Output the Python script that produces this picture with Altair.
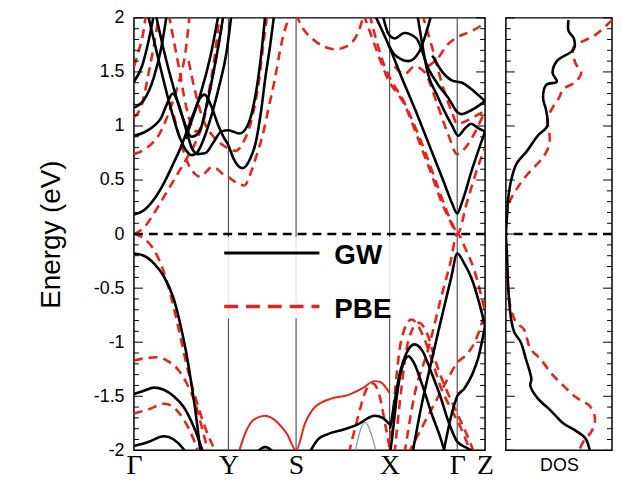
import altair as alt
import pandas as pd

# ---------------- axis / path definitions ----------------
K_TICKS = [0.0, 0.95, 1.63, 2.57, 3.25, 3.53]
K_LABELS = ["Γ", "Y", "S", "X", "Γ", "Z"]
K_LINES = [0.95, 1.63, 2.57, 3.25]
E_TICKS = [-2, -1.5, -1, -0.5, 0, 0.5, 1, 1.5, 2]

# ---------------- GW bands (black, solid) ----------------
gw_v1 = [(0, -0.18), (0.1, -0.2), (0.2, -0.27), (0.3, -0.39), (0.4, -0.6), (0.47, -0.85), (0.52, -1.07), (0.57, -1.34), (0.62, -1.65), (0.67, -2.03)]
gw_v2 = [(0, -1.48), (0.1, -1.45), (0.2, -1.42), (0.3, -1.44), (0.4, -1.5), (0.5, -1.6), (0.6, -1.78), (0.7, -2.03)]
gw_v3 = [(0, -1.96), (0.15, -1.92), (0.3, -1.87), (0.4, -1.9), (0.5, -1.99), (0.53, -2.03)]
gw_v4 = [(1.22, -2.03), (1.32, -1.97), (1.42, -2.03)]
gw_v5 = [(1.76, -2.03), (1.85, -1.9), (1.95, -1.85), (2.1, -1.81), (2.25, -1.76), (2.42, -1.68), (2.5, -1.7), (2.57, -1.76)]
gw_v6 = [(2.575, -1.8), (2.62, -1.55), (2.67, -1.3), (2.74, -1.1), (2.82, -1.02), (2.9, -1.08), (2.99, -1.28), (3.08, -1.5), (3.16, -1.73), (3.25, -1.92), (3.35, -1.98), (3.45, -2.03)]
gw_v7 = [(2.575, -2.03), (2.6, -1.85), (2.65, -1.45), (2.7, -1.22), (2.76, -1.13), (2.82, -1.2), (2.9, -1.4), (3.0, -1.68), (3.08, -1.88), (3.13, -2.03)]
gw_v8 = [(2.8, -2.03), (2.89, -1.59), (2.99, -1.18), (3.06, -0.9), (3.12, -0.67), (3.19, -0.4), (3.25, -0.18), (3.32, -0.27), (3.39, -0.4), (3.46, -0.6), (3.53, -0.85)]
gw_v9 = [(3.11, -2.03), (3.19, -1.68), (3.25, -1.5), (3.32, -1.43), (3.4, -1.3), (3.46, -1.15), (3.53, -0.85)]
gw_c1 = [(0, 0.18), (0.1, 0.22), (0.2, 0.32), (0.3, 0.47), (0.4, 0.66), (0.47, 0.8), (0.55, 1.0), (0.67, 1.3), (0.77, 1.65), (0.85, 2.03)]
gw_c2 = [(0, 0.91), (0.1, 0.94), (0.2, 1.0), (0.27, 1.07), (0.33, 1.2), (0.39, 1.3), (0.45, 1.2), (0.52, 0.98), (0.58, 0.8), (0.64, 0.74), (0.72, 0.75), (0.8, 0.85), (0.88, 0.95), (0.95, 0.96), (1.06, 0.93), (1.14, 1.0), (1.19, 1.14), (1.25, 1.45), (1.29, 1.75), (1.32, 2.03)]
gw_c3 = [(0, 1.17), (0.1, 1.24), (0.2, 1.45), (0.28, 1.75), (0.33, 2.03)]
gw_c4 = [(0, 1.41), (0.08, 1.55), (0.15, 1.8), (0.2, 2.03)]
gw_c5 = [(0.14, 2.03), (0.25, 1.6), (0.36, 1.2), (0.45, 0.92), (0.52, 0.78), (0.58, 0.73), (0.64, 0.76), (0.71, 0.9), (0.78, 1.1), (0.86, 1.38), (0.93, 1.68), (0.98, 2.03)]
gw_c6 = [(0.52, 0.88), (0.6, 1.1), (0.66, 1.25), (0.71, 1.29), (0.77, 1.2), (0.85, 1.0), (0.9, 0.9), (0.95, 0.82), (1.0, 0.7), (1.09, 0.61), (1.17, 0.7), (1.22, 0.83), (1.28, 1.15), (1.32, 1.44), (1.37, 1.75), (1.41, 2.03)]
gw_c7 = [(0.22, 2.03), (0.3, 1.7), (0.4, 1.35), (0.5, 1.05), (0.58, 0.9), (0.66, 0.95), (0.72, 1.15), (0.8, 1.5), (0.86, 1.8), (0.9, 2.03)]
gw_c8 = [(2.42, 2.03), (2.56, 1.75), (2.7, 1.43), (2.85, 1.1), (3.0, 0.75), (3.12, 0.47), (3.2, 0.28), (3.25, 0.19), (3.3, 0.3), (3.4, 0.6), (3.53, 0.95)]
gw_c9 = [(2.5, 2.03), (2.56, 1.85), (2.62, 1.81), (2.72, 1.86), (2.84, 1.81), (2.96, 1.53), (3.06, 1.38), (3.16, 1.26), (3.25, 1.13), (3.29, 1.11), (3.4, 1.15), (3.53, 1.23)]
gw_c10 = [(2.56, 1.75), (2.62, 1.66), (2.76, 1.6), (2.87, 1.69), (2.95, 1.9), (2.99, 2.03)]
gw_c11 = [(2.85, 2.03), (2.96, 1.47), (3.05, 1.28), (3.12, 1.14), (3.2, 1.0), (3.26, 0.91), (3.33, 0.98), (3.39, 1.02), (3.46, 0.98), (3.53, 0.95)]
gw_c12 = [(3.0, 1.65), (3.1, 1.5), (3.2, 1.42), (3.3, 1.4), (3.42, 1.32), (3.53, 1.23)]

# ---------------- PBE bands (red, dashed) ----------------
pbe_v1 = [(0, 0.0), (0.1, -0.04), (0.21, -0.16), (0.3, -0.35), (0.37, -0.57), (0.45, -0.88), (0.54, -1.25), (0.63, -1.55), (0.72, -1.8), (0.83, -2.03)]
pbe_v2 = [(0, -1.17), (0.1, -1.15), (0.24, -1.14), (0.35, -1.18), (0.44, -1.25), (0.53, -1.38), (0.61, -1.55), (0.68, -1.78), (0.75, -2.03)]
pbe_v3 = [(0, -1.66), (0.15, -1.62), (0.31, -1.57), (0.42, -1.62), (0.51, -1.73), (0.6, -1.9), (0.65, -2.03)]
pbe_v4 = [(2.16, -2.03), (2.25, -1.7), (2.33, -1.45), (2.4, -1.38), (2.47, -1.5), (2.53, -1.78), (2.58, -2.03)]
pbe_v5 = [(2.57, -2.03), (2.61, -1.6), (2.69, -0.97), (2.79, -0.79), (2.92, -0.97), (3.0, -1.18), (3.09, -1.43), (3.19, -1.62), (3.29, -1.8), (3.39, -2.03)]
pbe_v6 = [(2.62, -2.03), (2.68, -1.5), (2.76, -0.98), (2.86, -0.82), (2.96, -0.95), (3.02, -1.14), (3.1, -1.35), (3.18, -1.52), (3.26, -1.68), (3.33, -1.82), (3.39, -1.95), (3.42, -2.03)]
pbe_v7 = [(2.72, -2.03), (2.82, -1.49), (2.96, -1.06), (3.09, -0.58), (3.18, -0.27), (3.25, 0.0), (3.34, -0.15), (3.42, -0.33), (3.53, -0.72)]
pbe_v8 = [(2.76, -2.03), (2.9, -1.78), (3.05, -1.52), (3.16, -1.33), (3.25, -1.19), (3.36, -1.1), (3.45, -0.95), (3.53, -0.72)]
pbe_c1 = [(0, 0.0), (0.1, 0.06), (0.24, 0.25), (0.35, 0.42), (0.44, 0.56), (0.53, 0.7), (0.61, 0.83), (0.7, 1.05), (0.78, 1.4), (0.85, 1.75), (0.9, 2.03)]
pbe_c2 = [(0, 0.74), (0.1, 0.78), (0.27, 0.95), (0.38, 1.2), (0.45, 1.4), (0.52, 1.7), (0.56, 2.03)]
pbe_c3 = [(0.4, 1.1), (0.47, 0.85), (0.54, 0.66), (0.61, 0.56), (0.67, 0.53), (0.73, 0.58), (0.78, 0.62), (0.84, 0.6), (0.9, 0.55), (0.96, 0.52), (1.04, 0.47), (1.11, 0.45), (1.18, 0.58), (1.24, 0.75), (1.29, 0.9), (1.35, 1.15), (1.42, 1.45), (1.48, 1.75), (1.52, 1.9), (1.58, 2.03)]
pbe_c4 = [(0.55, 1.6), (0.62, 1.3), (0.7, 1.05), (0.8, 0.9), (0.9, 0.82), (1.02, 0.77), (1.1, 0.85), (1.18, 1.05), (1.26, 1.44), (1.3, 1.75), (1.34, 2.03)]
pbe_c5 = [(0, 1.08), (0.08, 1.2), (0.15, 1.5), (0.22, 1.85), (0.25, 2.03)]
pbe_c6 = [(0.35, 2.03), (0.45, 1.55), (0.52, 1.2), (0.58, 1.0), (0.63, 0.95), (0.68, 1.0), (0.75, 1.3), (0.82, 1.7), (0.86, 2.03)]
pbe_c7 = [(0, 1.55), (0.05, 1.7), (0.1, 1.9), (0.12, 2.03)]
pbe_c8 = [(1.63, 2.03), (1.7, 1.9), (1.79, 1.81), (1.9, 1.74), (2.02, 1.71), (2.12, 1.73), (2.19, 1.77), (2.26, 1.88), (2.31, 2.03)]
pbe_c9 = [(2.31, 2.03), (2.4, 1.8), (2.48, 1.6), (2.56, 1.42), (2.65, 1.3), (2.72, 1.2), (2.8, 1.02), (2.89, 0.8), (3.0, 0.53), (3.09, 0.3), (3.18, 0.12), (3.25, 0.0), (3.35, 0.3), (3.45, 0.6), (3.53, 0.8)]
pbe_c10 = [(2.37, 2.03), (2.45, 1.75), (2.52, 1.55), (2.6, 1.4), (2.7, 1.25), (2.8, 1.05), (2.92, 0.78), (3.05, 0.45), (3.15, 0.2), (3.25, 0.0)]
pbe_c11 = [(2.62, 1.55), (2.72, 1.48), (2.82, 1.55), (2.92, 1.5), (3.05, 1.2), (3.16, 0.92), (3.25, 0.74), (3.35, 0.82), (3.45, 0.98), (3.53, 1.14)]
pbe_c12 = [(2.9, 2.03), (3.0, 1.72), (3.1, 1.38), (3.2, 1.12), (3.25, 1.02), (3.35, 1.05), (3.45, 1.1), (3.53, 1.14)]
pbe_c13 = [(2.95, 1.55), (3.05, 1.62), (3.15, 1.75), (3.25, 1.82), (3.4, 1.88), (3.53, 1.95)]
# thin solid red band along Y-S-X
pbe_s1 = [(1.05, -2.03), (1.12, -1.84), (1.2, -1.72), (1.32, -1.68), (1.44, -1.74), (1.54, -1.85), (1.63, -2.0), (1.72, -1.75), (1.82, -1.6), (1.99, -1.52), (2.15, -1.49), (2.29, -1.43), (2.42, -1.36), (2.48, -1.37), (2.57, -1.47)]
# faint grey band near X
grey_1 = [(2.22, -2.03), (2.32, -1.74), (2.44, -2.03)]

GW_BANDS = dict(v1=gw_v1, v2=gw_v2, v3=gw_v3, v4=gw_v4, v5=gw_v5, v6=gw_v6, v7=gw_v7, v8=gw_v8, v9=gw_v9,
                c1=gw_c1, c2=gw_c2, c3=gw_c3, c4=gw_c4, c5=gw_c5, c6=gw_c6, c7=gw_c7, c8=gw_c8, c9=gw_c9,
                c10=gw_c10, c11=gw_c11, c12=gw_c12)
PBE_BANDS = dict(v1=pbe_v1, v2=pbe_v2, v3=pbe_v3, v4=pbe_v4, v5=pbe_v5, v6=pbe_v6, v7=pbe_v7, v8=pbe_v8,
                 c1=pbe_c1, c2=pbe_c2, c3=pbe_c3, c4=pbe_c4, c5=pbe_c5, c6=pbe_c6, c7=pbe_c7, c8=pbe_c8,
                 c9=pbe_c9, c10=pbe_c10, c11=pbe_c11, c12=pbe_c12, c13=pbe_c13)
PBE_SOLID = dict(s1=pbe_s1)
GREY_BANDS = dict(g1=grey_1)

# ---------------- DOS ----------------
dos_e_gw = [1.98, 1.88, 1.81, 1.71, 1.60, 1.49, 1.41, 1.38, 1.26, 1.14, 1.0, 0.91, 0.77, 0.65, 0.5, 0.31, 0.16, 0.0,
            -0.18, -0.45, -0.61, -0.79, -0.91, -1.0, -1.16, -1.34, -1.4, -1.52, -1.63, -1.75, -1.82, -1.89, -2.0]
dos_gw = [0.59, 0.59, 0.64, 0.64, 0.48, 0.44, 0.48, 0.38, 0.35, 0.38, 0.39, 0.30, 0.20, 0.10, 0.05, 0.02, 0.01, 0.0,
          0.01, 0.02, 0.03, 0.05, 0.08, 0.14, 0.19, 0.24, 0.23, 0.30, 0.42, 0.54, 0.66, 0.75, 0.79]
dos_e_pbe = [1.98, 1.84, 1.75, 1.71, 1.57, 1.50, 1.41, 1.34, 1.26, 1.17, 1.06, 0.93, 0.83, 0.71, 0.56, 0.43, 0.31, 0.19, 0.0,
             -0.3, -0.51, -0.70, -0.82, -0.88, -0.97, -1.06, -1.16, -1.28, -1.4, -1.51, -1.59, -1.71, -1.82, -1.92, -2.0]
dos_pbe = [1.0, 0.84, 0.66, 0.63, 0.66, 0.71, 0.66, 0.54, 0.50, 0.44, 0.39, 0.41, 0.41, 0.35, 0.21, 0.11, 0.04, 0.01, 0.0,
           0.01, 0.02, 0.05, 0.10, 0.17, 0.20, 0.23, 0.33, 0.42, 0.54, 0.66, 0.79, 0.84, 0.81, 0.73, 0.69]

RED = "#e8231c"
W_MAIN, W_DOS, H = 354, 107, 436


def bands_df(bands):
    rows = []
    for name, pts in bands.items():
        for i, (k, e) in enumerate(pts):
            rows.append({"band": name, "k": k, "E": e, "i": i})
    return pd.DataFrame(rows)


yscale = alt.Scale(domain=[-2, 2], nice=False, zero=False)
kscale = alt.Scale(domain=[0, 3.53], nice=False, zero=False)
label_map = "{" + ",".join(f"'{v:g}':'{l}'" for v, l in zip(K_TICKS, K_LABELS)) + "}"

x_main = alt.X("k:Q", scale=kscale, axis=alt.Axis(values=K_TICKS, labelExpr=label_map + "[''+datum.value]",
                                                  ticks=False, domain=False, grid=False, labelFlush=False,
                                                  labelOverlap=False, labelFont="Liberation Serif",
                                                  labelFontSize=28, labelPadding=1, labelColor="black", title=None))
y_main = alt.Y("E:Q", scale=yscale, axis=alt.Axis(values=E_TICKS, labelExpr="'' + datum.value", ticks=False,
                                                  domain=False, grid=False, labelFont="Liberation Sans",
                                                  labelFontSize=18, labelPadding=10, labelColor="black",
                                                  title="Energy (eV)", titleFont="Liberation Sans",
                                                  titleFontSize=28, titleFontWeight="normal", titlePadding=28,
                                                  titleColor="black"))

one = pd.DataFrame({"a": [0]})
minor = pd.DataFrame({"E": [round(-2 + 0.1 * i, 1) for i in range(41) if i % 5 != 0]})
major = pd.DataFrame({"E": E_TICKS})


def tick_layers(width):
    out = []
    for df, ln in [(minor, 5), (major, 9)]:
        base = alt.Chart(df).mark_rule(color="black", strokeWidth=1)
        out.append(base.encode(y=alt.Y("E:Q", scale=yscale), x=alt.value(0), x2=alt.value(ln)))
        out.append(base.encode(y=alt.Y("E:Q", scale=yscale), x=alt.value(width - ln), x2=alt.value(width)))
    return out


vlines = alt.Chart(pd.DataFrame({"k": K_LINES})).mark_rule(color="#555555", strokeWidth=1.2).encode(x=x_main)
legend_bg = alt.Chart(one).mark_rect(fill="white", opacity=0.85).encode(
    x=alt.value(87), x2=alt.value(262), y=alt.value(221), y2=alt.value(303))


def band_layer(bands, color, width, dash=None):
    kw = dict(color=color, strokeWidth=width, interpolate="monotone", clip=True)
    if dash:
        kw["strokeDash"] = dash
    return alt.Chart(bands_df(bands)).mark_line(**kw).encode(
        x=x_main, y=y_main, detail="band:N", order="i:Q")


grey_layer = band_layer(GREY_BANDS, "#999999", 1.2)
pbe_solid_layer = band_layer(PBE_SOLID, RED, 2)
pbe_layer = band_layer(PBE_BANDS, RED, 2.6, [9, 6])
gw_layer = band_layer(GW_BANDS, "black", 2.6)

zero_main = alt.Chart(one).mark_rule(color="black", strokeWidth=2.5, strokeDash=[9, 6]).encode(
    y=alt.datum(0, scale=yscale))

leg_gw = alt.Chart(one).mark_rule(color="black", strokeWidth=3).encode(
    x=alt.value(91), x2=alt.value(187), y=alt.value(237))
leg_pbe = alt.Chart(one).mark_rule(color=RED, strokeWidth=3.5, strokeDash=[14, 8]).encode(
    x=alt.value(91), x2=alt.value(187), y=alt.value(291))
leg_gw_t = alt.Chart(one).mark_text(text="GW", align="left", baseline="middle", font="Liberation Sans",
                                    fontWeight="bold", fontSize=28, color="black").encode(
    x=alt.value(202), y=alt.value(240))
leg_pbe_t = alt.Chart(one).mark_text(text="PBE", align="left", baseline="middle", font="Liberation Sans",
                                     fontWeight="bold", fontSize=28, color="black").encode(
    x=alt.value(202), y=alt.value(295))

main = alt.layer(vlines, legend_bg, grey_layer, pbe_solid_layer, pbe_layer, gw_layer, zero_main,
                 *tick_layers(W_MAIN), leg_gw, leg_pbe, leg_gw_t, leg_pbe_t).properties(width=W_MAIN, height=H)

# ---------------- DOS panel ----------------
x_dos = alt.X("d:Q", scale=alt.Scale(domain=[0, 1], nice=False, zero=False),
              axis=alt.Axis(labels=False, ticks=False, domain=False, grid=False, title="DOS",
                            titleFont="Liberation Sans", titleFontSize=18, titleFontWeight="normal",
                            titlePadding=6, titleColor="black"))
y_dos = alt.Y("E:Q", scale=yscale, axis=None)

dos_gw_df = pd.DataFrame({"E": dos_e_gw, "d": dos_gw, "i": range(len(dos_gw))})
dos_pbe_df = pd.DataFrame({"E": dos_e_pbe, "d": dos_pbe, "i": range(len(dos_pbe))})

dos_pbe_line = alt.Chart(dos_pbe_df).mark_line(color=RED, strokeWidth=2.6, strokeDash=[9, 6],
                                               interpolate="catmull-rom", clip=True).encode(
    x=x_dos, y=y_dos, order="i:Q")
dos_gw_line = alt.Chart(dos_gw_df).mark_line(color="black", strokeWidth=2.6, interpolate="catmull-rom",
                                             clip=True).encode(x=x_dos, y=y_dos, order="i:Q")
zero_dos = alt.Chart(one).mark_rule(color="black", strokeWidth=2.5, strokeDash=[9, 6]).encode(
    y=alt.datum(0, scale=yscale))

dos = alt.layer(dos_pbe_line, dos_gw_line, zero_dos, *tick_layers(W_DOS)).properties(width=W_DOS, height=H)

chart = alt.hconcat(main, dos, spacing=21, bounds="flush").properties(
    padding={"left": 29, "top": -2, "right": 0, "bottom": 0}
).configure_view(stroke="black", strokeWidth=1.5).configure_concat(spacing=21)

chart.save("out.html", embed_options={"renderer": "svg", "actions": False})
